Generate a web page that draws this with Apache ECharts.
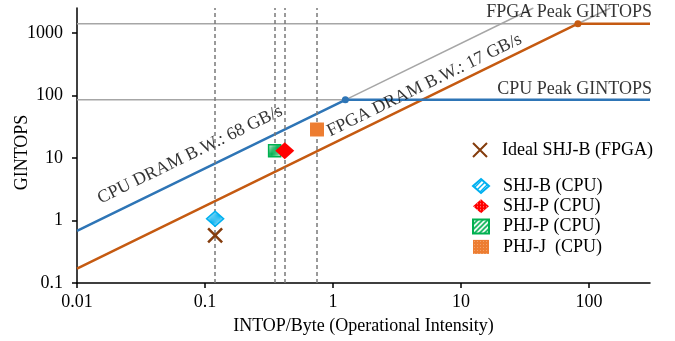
<!DOCTYPE html>
<html>
<head>
<meta charset="utf-8">
<script src="https://cdn.jsdelivr.net/npm/echarts@6/dist/echarts.min.js"></script>
<style>html,body{margin:0;padding:0;background:#fff;}#c{width:675px;height:341px;}</style>
</head>
<body>
<div id="c"></div>
<script>
// ---- data ----
var xTicks = [0.01, 0.1, 1, 10, 100];
var yTicks = [0.1, 1, 10, 100, 1000];
var cpuRoof = [[0.01, 0.68], [1.25, 85], [300, 85]];
var fpgaRoof = [[0.01, 0.17], [82, 1400], [300, 1400]];
var cpuRidge = [[1.25, 85]];
var fpgaRidge = [[82, 1400]];
var cpuPeakGray = [[0.01, 85], [1.25, 85]];
var fpgaPeakGray = [[0.01, 1400], [82, 1400]];
var cpuBWExt = [[1.25, 85], [36.8, 2500]];
var fpgaBWExt = [[82, 1400], [147, 2500]];
var dashedX = [0.12, 0.35, 0.42, 0.75];
var idealSHJB = [[0.12, 0.58]];
var shjbCPU = [[0.12, 1.07]];
var shjpCPU = [[0.42, 13]];
var phjpCPU = [[0.35, 13]];
var phjjCPU = [[0.75, 28.5]];
var peakLabels = [
  {name: 'FPGA Peak GINTOPS', value: [300, 1400]},
  {name: 'CPU Peak GINTOPS', value: [300, 85]}
];
var bwLabels = [
  {name: 'CPU DRAM B.W.: 68 GB/s', value: [0.0764, 11.2]},
  {name: 'FPGA DRAM B.W.: 17 GB/s', value: [5.19, 145]}
];

function tile(size, draw) {
  var c = document.createElement('canvas');
  c.width = size; c.height = size;
  var g = c.getContext('2d');
  draw(g, size);
  return {image: c, repeat: 'repeat'};
}
function stripes(col, bg, lw) {
  return tile(5, function (g, s) {
    g.fillStyle = bg; g.fillRect(0, 0, s, s);
    g.strokeStyle = col; g.lineWidth = lw;
    g.beginPath();
    g.moveTo(0, s); g.lineTo(s, 0);
    g.moveTo(-1, 1); g.lineTo(1, -1);
    g.moveTo(s - 1, s + 1); g.lineTo(s + 1, s - 1);
    g.stroke();
  });
}
function dots(bg, dot) {
  return tile(3, function (g, s) {
    g.fillStyle = bg; g.fillRect(0, 0, s, s);
    g.fillStyle = dot; g.fillRect(1, 1, 1, 1);
  });
}

var FONT = 'Liberation Serif';
var FS = 18;
var BLUE = '#2e75b6', ORANGE = '#c55a11', GRAY = '#a6a6a6';

function grayLine(d) {
  return {type: 'line', data: d, showSymbol: false, silent: true, z: 1,
    lineStyle: {color: GRAY, width: 1.5}};
}

var chart = echarts.init(document.getElementById('c'), null, {renderer: 'canvas'});
chart.setOption({
  animation: false,
  backgroundColor: '#fff',
  textStyle: {fontFamily: FONT},
  grid: {left: 77, right: 25, top: 8, bottom: 58, containLabel: false, outerBoundsMode: 'none'},
  xAxis: {
    type: 'log', logBase: 10, min: 0.01, max: 300,
    name: 'INTOP/Byte (Operational Intensity)', nameLocation: 'middle', nameGap: 34, nameMoveOverlap: false,
    nameTextStyle: {fontFamily: FONT, fontSize: FS, color: '#000'},
    axisLine: {lineStyle: {color: '#000', width: 1.5}},
    axisTick: {show: true, length: 5, customValues: xTicks, lineStyle: {color: '#000', width: 1.5}},
    axisLabel: {customValues: xTicks, fontFamily: FONT, fontSize: FS, color: '#000', margin: 10,
      formatter: function (v) { return String(v); }},
    splitLine: {show: false}, minorTick: {show: false}
  },
  yAxis: {
    type: 'log', logBase: 10, min: 0.1, max: 2500,
    name: 'GINTOPS', nameLocation: 'middle', nameGap: 46, nameRotate: 90, nameMoveOverlap: false,
    nameTextStyle: {fontFamily: FONT, fontSize: FS, color: '#000', padding: [0, 14, 0, 0]},
    axisLine: {lineStyle: {color: '#000', width: 1.5}},
    axisTick: {show: true, length: 5, customValues: yTicks, lineStyle: {color: '#000', width: 1.5}},
    axisLabel: {customValues: yTicks, fontFamily: FONT, fontSize: FS, color: '#000', margin: 14,
      formatter: function (v) { return String(v); }},
    splitLine: {show: false}
  },
  legend: [
    {
      data: ['Ideal SHJ-B (FPGA)'], left: 467, top: 136, orient: 'vertical',
      itemWidth: 16, itemHeight: 14,
      textStyle: {fontFamily: FONT, fontSize: FS, color: '#000', lineHeight: 18, padding: [0, 0, 0, 9]}
    },
    {
      data: ['SHJ-B (CPU)', 'SHJ-P (CPU)', 'PHJ-P (CPU)', 'PHJ-J  (CPU)'], left: 467, top: 172,
      orient: 'vertical', itemWidth: 16, itemHeight: 14, itemGap: 2.3,
      textStyle: {fontFamily: FONT, fontSize: FS, color: '#000', lineHeight: 18, padding: [0, 0, 0, 9]}
    }
  ],
  series: [
    grayLine(cpuPeakGray), grayLine(fpgaPeakGray), grayLine(cpuBWExt), grayLine(fpgaBWExt),
    {
      type: 'line', data: fpgaRoof, showSymbol: false, silent: true, z: 3,
      lineStyle: {color: ORANGE, width: 2.5},
      markLine: {
        silent: true, symbol: 'none', label: {show: false},
        lineStyle: {color: '#7a7a7a', width: 1.5, type: [4, 3]},
        data: dashedX.map(function (x) { return {xAxis: x}; })
      }
    },
    {type: 'line', data: cpuRoof, showSymbol: false, silent: true, z: 3,
      lineStyle: {color: BLUE, width: 2.5}},
    {type: 'scatter', data: cpuRidge, symbolSize: 7, itemStyle: {color: BLUE, opacity: 1}, z: 4},
    {type: 'scatter', data: fpgaRidge, symbolSize: 7, itemStyle: {color: ORANGE, opacity: 1}, z: 4},
    {
      name: 'Ideal SHJ-B (FPGA)', type: 'scatter', data: idealSHJB, z: 5,
      symbol: 'path://M0,0L10,10M10,0L0,10', symbolSize: 14,
      itemStyle: {color: 'rgba(0,0,0,0)', borderColor: '#843c0c', borderWidth: 2.5, opacity: 1}
    },
    {
      name: 'SHJ-B (CPU)', type: 'scatter', data: shjbCPU, z: 5,
      symbol: 'diamond', symbolSize: [17, 15],
      itemStyle: {color: stripes('#00b0f0', '#ffffff', 1.4), borderColor: '#00b0f0', borderWidth: 1.5, opacity: 1}
    },
    {
      name: 'SHJ-P (CPU)', type: 'scatter', data: shjpCPU, z: 6,
      symbol: 'diamond', symbolSize: [19, 17],
      itemStyle: {color: dots('#ff0000', '#ff9a9a'), opacity: 1}
    },
    {
      name: 'PHJ-P (CPU)', type: 'scatter', data: phjpCPU, z: 5,
      symbol: 'rect', symbolSize: [12, 12],
      itemStyle: {color: stripes('#00b050', '#ffffff', 1.6), borderColor: '#00b050', borderWidth: 1.5, opacity: 1}
    },
    {
      name: 'PHJ-J  (CPU)', type: 'scatter', data: phjjCPU, z: 5,
      symbol: 'rect', symbolSize: [14, 14],
      itemStyle: {color: dots('#ed7d31', '#f3a46c'), opacity: 1}
    },
    {
      type: 'scatter', data: peakLabels, symbolSize: 0, silent: true, z: 7,
      label: {show: true, position: 'left', distance: -2, offset: [0, -11], formatter: '{b}',
        fontFamily: FONT, fontSize: FS, color: '#000'}
    },
    {
      type: 'scatter', data: bwLabels, symbolSize: 0, silent: true, z: 7,
      label: {show: true, position: 'inside', rotate: 26, formatter: '{b}', align: 'center', verticalAlign: 'middle',
        fontFamily: FONT, fontSize: FS, color: '#000'}
    }
  ]
});
</script>
</body>
</html>
